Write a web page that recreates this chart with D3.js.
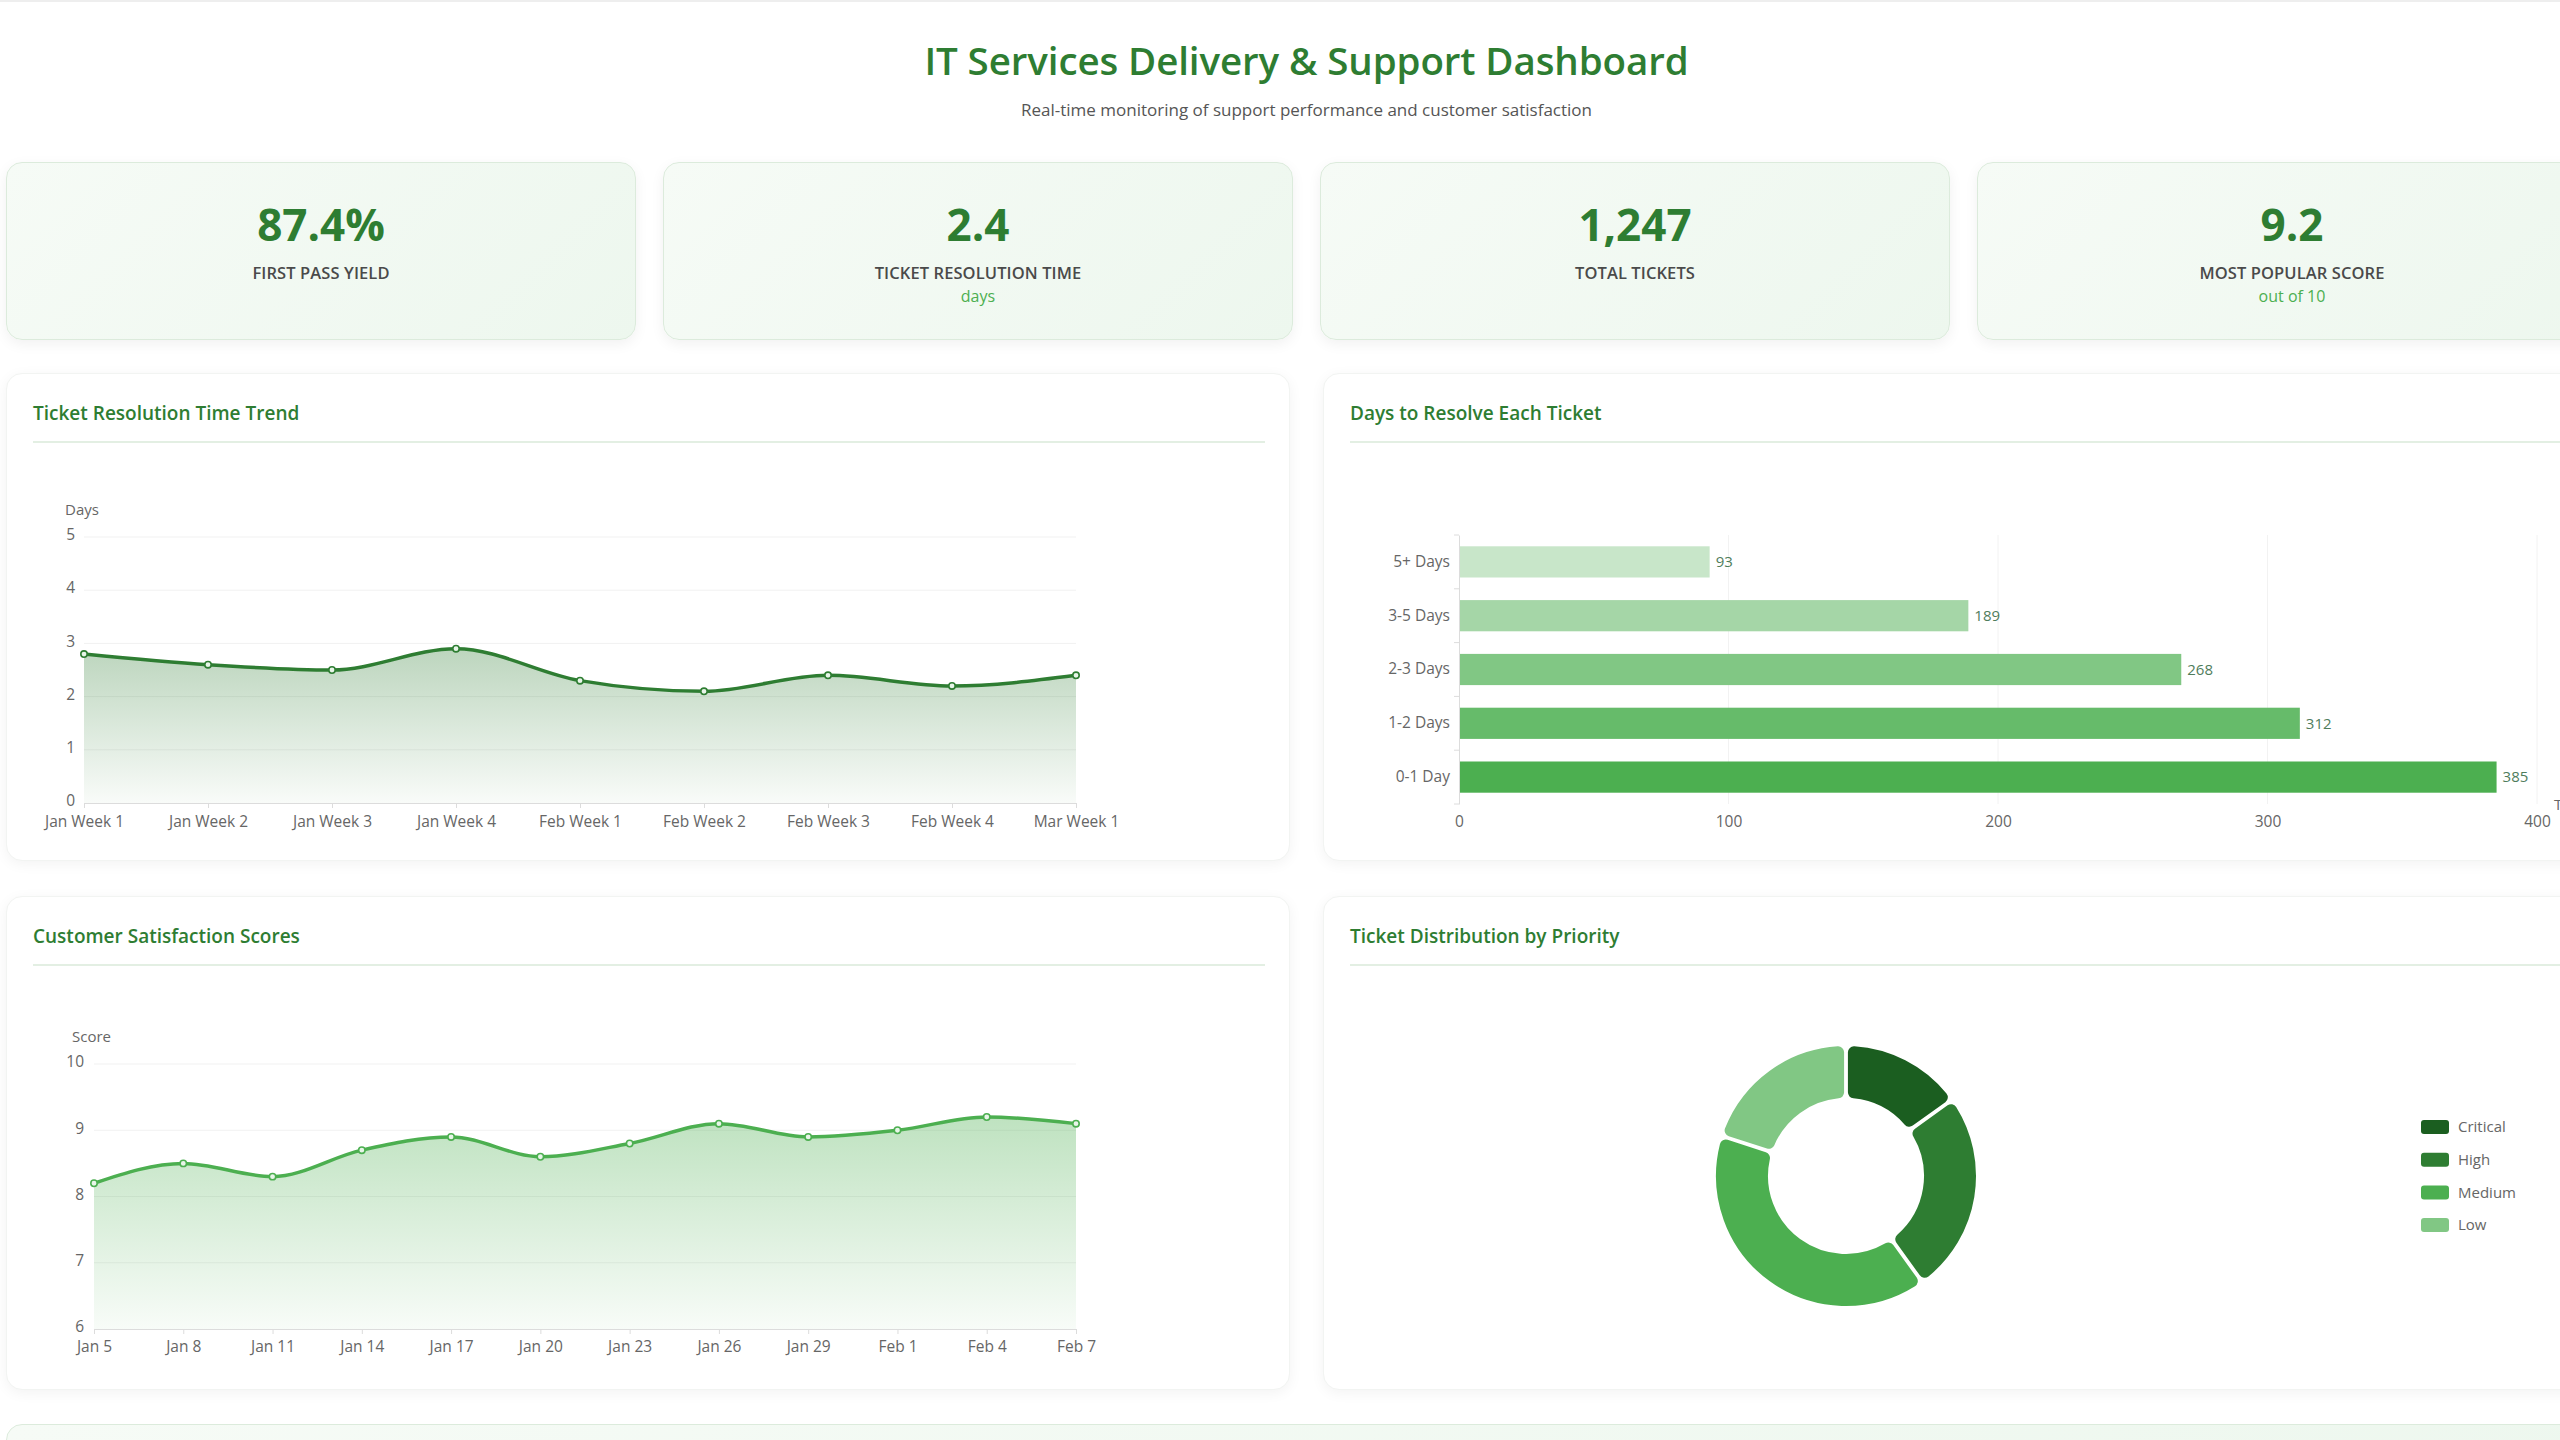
<!DOCTYPE html>
<html>
<head>
<meta charset="utf-8">
<script src="https://cdn.jsdelivr.net/npm/d3@7"></script>
<style>
  html, body { margin: 0; padding: 0; background: #ffffff; overflow: hidden; }
  body { width: 2560px; height: 1440px; position: relative; font-family: "Open Sans", "Noto Sans", sans-serif; border-top: 2px solid #eeeeee; box-sizing: border-box; }
  #page { position: absolute; left: 0; top: 0; width: 2620px; height: 1440px; }
  .title { position: absolute; left: 0; width: 2613px; top: 32px; text-align: center; font-size: 38.5px; font-weight: 600; color: #2e7d32; letter-spacing: -0.1px; }
  .subtitle { position: absolute; left: 0; width: 2613px; top: 96px; text-align: center; font-size: 17px; color: #555; }
  .card { position: absolute; top: 160px; width: 630px; height: 178px; border-radius: 16px; box-sizing: border-box;
          border: 1.5px solid #dcebdc; background: linear-gradient(135deg, #f6fbf6 0%, #edf7ee 100%);
          box-shadow: 0 4px 14px rgba(0,0,0,0.06); text-align: center; }
  .card .val { position: absolute; left: 0; right: 0; top: 30px; font-size: 44px; font-weight: 700; color: #2e7d32; line-height: 62px; }
  .card .lab { position: absolute; left: 0; right: 0; top: 98px; font-size: 16.5px; font-weight: 600; color: #4a4a4a; letter-spacing: 0.1px; }
  .card .sub { position: absolute; left: 0; right: 0; top: 122px; font-size: 16px; font-weight: 500; color: #4caf50; }
  .panel { position: absolute; background: #fff; border-radius: 16px; box-sizing: border-box; border: 1px solid #f2f4f2;
           box-shadow: 0 3px 14px rgba(0,0,0,0.05); }
  .panel svg { position: absolute; left: 0; top: 0; overflow: visible; }
  .ptitle { font-size: 19px; font-weight: 600; fill: #2e7d32; }
  .axis text { font-family: "Open Sans", "Noto Sans", sans-serif; font-size: 15.5px; fill: #666; }
  .bottom { position: absolute; left: 6px; top: 1422px; width: 2601px; height: 120px; border-radius: 16px; border: 1.5px solid #dcebdc;
            background: linear-gradient(135deg, #f6fbf6 0%, #edf7ee 100%); box-sizing: border-box; }
</style>
</head>
<body>
<div id="page">
  <div class="title">IT Services Delivery &amp; Support Dashboard</div>
  <div class="subtitle">Real-time monitoring of support performance and customer satisfaction</div>
</div>
<script>
// ---------- DATA ----------
const kpiValues = ["87.4%", "2.4", "1,247", "9.2"];
const kpiLabels = ["FIRST PASS YIELD", "TICKET RESOLUTION TIME", "TOTAL TICKETS", "MOST POPULAR SCORE"];
const kpiSubs = ["", "days", "", "out of 10"];

const resWeeks = ["Jan Week 1", "Jan Week 2", "Jan Week 3", "Jan Week 4", "Feb Week 1", "Feb Week 2", "Feb Week 3", "Feb Week 4", "Mar Week 1"];
const resDays = [2.8, 2.6, 2.5, 2.9, 2.3, 2.1, 2.4, 2.2, 2.4];
const resTicks = [0, 1, 2, 3, 4, 5];

const bucketLabels = ["5+ Days", "3-5 Days", "2-3 Days", "1-2 Days", "0-1 Day"];
const bucketCounts = [93, 189, 268, 312, 385];
const bucketTicks = [0, 100, 200, 300, 400];

const satDates = ["Jan 5", "Jan 8", "Jan 11", "Jan 14", "Jan 17", "Jan 20", "Jan 23", "Jan 26", "Jan 29", "Feb 1", "Feb 4", "Feb 7"];
const satScores = [8.2, 8.5, 8.3, 8.7, 8.9, 8.6, 8.8, 9.1, 8.9, 9.0, 9.2, 9.1];
const satTicks = [6, 7, 8, 9, 10];

const priorityLabels = ["Critical", "High", "Medium", "Low"];
const priorityShares = [15, 25, 40, 20];

// ---------- STYLES ----------
const bucketColors = ["#c8e6c9", "#a5d6a7", "#81c784", "#66bb6a", "#4caf50"];
const priorityColors = ["#1b5e20", "#2e7d32", "#4caf50", "#81c784"];

const page = d3.select("#page");

// KPI cards
kpiValues.forEach((v, i) => {
  const c = page.append("div").attr("class", "card").style("left", (6 + i * 657) + "px");
  c.append("div").attr("class", "val").text(v);
  c.append("div").attr("class", "lab").text(kpiLabels[i]);
  if (kpiSubs[i]) c.append("div").attr("class", "sub").text(kpiSubs[i]);
});

function panel(left, top, w, h, title) {
  const p = page.append("div").attr("class", "panel")
    .style("left", left + "px").style("top", top + "px")
    .style("width", w + "px").style("height", h + "px");
  const svg = p.append("svg").attr("width", w).attr("height", h);
  svg.append("text").attr("class", "ptitle").attr("x", 26).attr("y", 46).text(title);
  svg.append("line").attr("x1", 26).attr("x2", w - 26).attr("y1", 68).attr("y2", 68)
    .attr("stroke", "#e3efe3").attr("stroke-width", 2);
  return svg;
}

// ---------- Chart 1: resolution trend ----------
(function () {
  const svg = panel(6, 371, 1284, 488, "Ticket Resolution Time Trend");
  const x = d3.scalePoint().domain(resWeeks).range([77, 1069]);
  const y = d3.scaleLinear().domain([0, 5]).range([429, 163]);
  const defs = svg.append("defs");
  const g = defs.append("linearGradient").attr("id", "g1").attr("x1", 0).attr("x2", 0).attr("y1", 0).attr("y2", 1);
  g.append("stop").attr("offset", "0%").attr("stop-color", "#2e7d32").attr("stop-opacity", 0.32);
  g.append("stop").attr("offset", "100%").attr("stop-color", "#2e7d32").attr("stop-opacity", 0.03);

  svg.append("g").selectAll("line").data(resTicks.slice(1)).join("line")
    .attr("x1", 77).attr("x2", 1069).attr("y1", d => y(d)).attr("y2", d => y(d))
    .attr("stroke", "#f1f1f1").attr("stroke-width", 1);

  const curve = d3.curveMonotoneX;
  svg.append("path").datum(resDays)
    .attr("d", d3.area().x((d, i) => x(resWeeks[i])).y0(y(0)).y1(d => y(d)).curve(curve))
    .attr("fill", "url(#g1)");

  const xa = svg.append("g").attr("class", "axis").attr("transform", `translate(0,${y(0)})`)
    .call(d3.axisBottom(x).tickSize(5).tickPadding(8));
  xa.select(".domain").attr("stroke", "#dcdcdc");
  xa.selectAll(".tick line").attr("stroke", "#dcdcdc");

  const ya = svg.append("g").attr("class", "axis").attr("transform", `translate(68,0)`)
    .call(d3.axisLeft(y).tickValues(resTicks).tickFormat(d3.format("d")).tickSize(0).tickPadding(0));
  ya.select(".domain").remove();
  ya.selectAll("text").attr("dy", "0.18em");

  svg.append("text").attr("x", 58).attr("y", 141).attr("font-size", 15).attr("fill", "#666").text("Days");

  svg.append("path").datum(resDays)
    .attr("d", d3.line().x((d, i) => x(resWeeks[i])).y(d => y(d)).curve(curve))
    .attr("fill", "none").attr("stroke", "#2e7d32").attr("stroke-width", 3.5);
  svg.append("g").selectAll("circle").data(resDays).join("circle")
    .attr("cx", (d, i) => x(resWeeks[i])).attr("cy", d => y(d)).attr("r", 3.2)
    .attr("fill", "#e8f5e9").attr("stroke", "#2e7d32").attr("stroke-width", 1.6);
})();

// ---------- Chart 2: days to resolve ----------
(function () {
  const svg = panel(1323, 371, 1284, 488, "Days to Resolve Each Ticket");
  const x = d3.scaleLinear().domain([0, 400]).range([135, 1213]);
  const y = d3.scaleBand().domain(bucketLabels).range([161, 430]).paddingInner(0.42).paddingOuter(0.21);

  svg.append("g").selectAll("line").data(bucketTicks.slice(1)).join("line")
    .attr("x1", d => x(d)).attr("x2", d => x(d)).attr("y1", 161).attr("y2", 430)
    .attr("stroke", "#f2f2f2").attr("stroke-width", 1);

  svg.append("g").selectAll("rect").data(bucketCounts).join("rect")
    .attr("x", x(0)).attr("y", (d, i) => y(bucketLabels[i]))
    .attr("width", d => x(d) - x(0)).attr("height", y.bandwidth())
    .attr("fill", (d, i) => bucketColors[i]);

  svg.append("g").selectAll("text").data(bucketCounts).join("text")
    .attr("x", d => x(d) + 6).attr("y", (d, i) => y(bucketLabels[i]) + y.bandwidth() / 2)
    .attr("dy", "0.35em").attr("font-size", 15).attr("fill", "#4f7d5c").text(d => d);

  const xa = svg.append("g").attr("class", "axis").attr("transform", `translate(0,432)`)
    .call(d3.axisBottom(x).tickValues(bucketTicks).tickSize(0).tickPadding(10));
  xa.select(".domain").remove();

  const ya = svg.append("g").attr("class", "axis").attr("transform", `translate(${x(0)},0)`)
    .call(d3.axisLeft(y).tickSize(0).tickPadding(9));
  ya.select(".domain").attr("stroke", "#dcdcdc");
  const step = y.step();
  svg.append("g").selectAll("line").data(d3.range(bucketLabels.length + 1)).join("line")
    .attr("x1", x(0) - 5).attr("x2", x(0)).attr("y1", i => 161 + i * step).attr("y2", i => 161 + i * step)
    .attr("stroke", "#dcdcdc");

  svg.append("text").attr("x", x(400) + 17).attr("y", 436).attr("font-size", 15).attr("fill", "#666").text("Tickets");
})();

// ---------- Chart 3: satisfaction ----------
(function () {
  const svg = panel(6, 894, 1284, 494, "Customer Satisfaction Scores");
  const x = d3.scalePoint().domain(satDates).range([87, 1069]);
  const y = d3.scaleLinear().domain([6, 10]).range([432, 167]);
  const defs = svg.append("defs");
  const g = defs.append("linearGradient").attr("id", "g2").attr("x1", 0).attr("x2", 0).attr("y1", 0).attr("y2", 1);
  g.append("stop").attr("offset", "0%").attr("stop-color", "#4caf50").attr("stop-opacity", 0.36);
  g.append("stop").attr("offset", "100%").attr("stop-color", "#4caf50").attr("stop-opacity", 0.04);

  svg.append("g").selectAll("line").data(satTicks.slice(1)).join("line")
    .attr("x1", 87).attr("x2", 1069).attr("y1", d => y(d)).attr("y2", d => y(d))
    .attr("stroke", "#f1f1f1").attr("stroke-width", 1);

  const curve = d3.curveMonotoneX;
  svg.append("path").datum(satScores)
    .attr("d", d3.area().x((d, i) => x(satDates[i])).y0(y(6)).y1(d => y(d)).curve(curve))
    .attr("fill", "url(#g2)");

  const xa = svg.append("g").attr("class", "axis").attr("transform", `translate(0,${y(6)})`)
    .call(d3.axisBottom(x).tickSize(5).tickPadding(7));
  xa.select(".domain").attr("stroke", "#dcdcdc");
  xa.selectAll(".tick line").attr("stroke", "#dcdcdc");

  const ya = svg.append("g").attr("class", "axis").attr("transform", `translate(77,0)`)
    .call(d3.axisLeft(y).tickValues(satTicks).tickFormat(d3.format("d")).tickSize(0).tickPadding(0));
  ya.select(".domain").remove();
  ya.selectAll("text").attr("dy", "0.18em");

  svg.append("text").attr("x", 65).attr("y", 145).attr("font-size", 15).attr("fill", "#666").text("Score");

  svg.append("path").datum(satScores)
    .attr("d", d3.line().x((d, i) => x(satDates[i])).y(d => y(d)).curve(curve))
    .attr("fill", "none").attr("stroke", "#4caf50").attr("stroke-width", 3.5);
  svg.append("g").selectAll("circle").data(satScores).join("circle")
    .attr("cx", (d, i) => x(satDates[i])).attr("cy", d => y(d)).attr("r", 3.2)
    .attr("fill", "#e8f5e9").attr("stroke", "#4caf50").attr("stroke-width", 1.6);
})();

// ---------- Chart 4: priority donut ----------
(function () {
  const svg = panel(1323, 894, 1284, 494, "Ticket Distribution by Priority");
  const cx = 522, cy = 279;
  const pie = d3.pie().sort(null).value(d => d).padAngle(0.012);
  const arc = d3.arc().innerRadius(77).outerRadius(131).cornerRadius(7);
  svg.append("g").attr("transform", `translate(${cx},${cy})`)
    .selectAll("path").data(pie(priorityShares)).join("path")
    .attr("d", arc).attr("fill", (d, i) => priorityColors[i])
    .attr("stroke", "#fff").attr("stroke-width", 2);

  const lg = svg.append("g").selectAll("g").data(priorityLabels).join("g")
    .attr("transform", (d, i) => `translate(1097,${223 + i * 32.7})`);
  lg.append("rect").attr("width", 28).attr("height", 14).attr("rx", 3).attr("fill", (d, i) => priorityColors[i]);
  lg.append("text").attr("x", 37).attr("y", 7).attr("dy", "0.35em").attr("font-size", 15).attr("fill", "#666").text(d => d);
})();

page.append("div").attr("class", "bottom");
</script>
</body>
</html>
